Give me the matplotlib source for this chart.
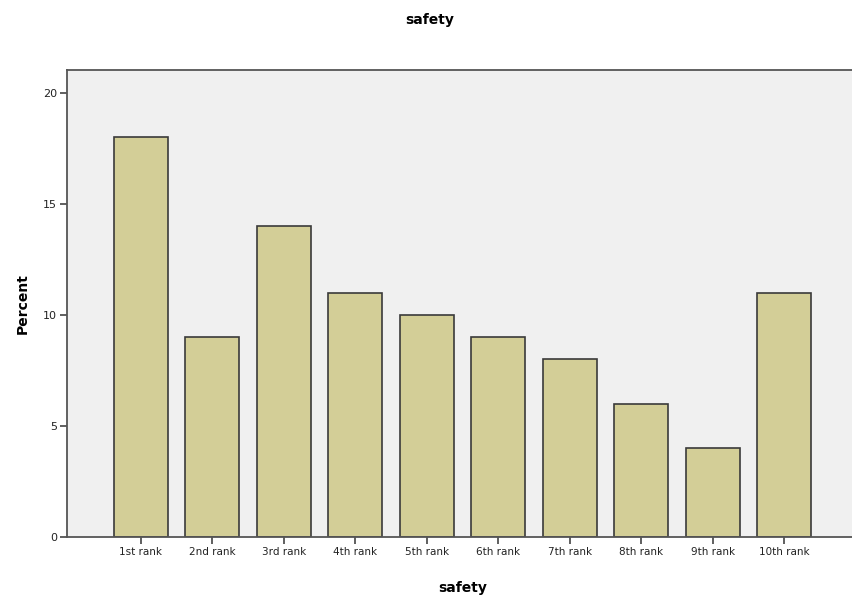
import matplotlib.pyplot as plt

categories = ["1st rank", "2nd rank", "3rd rank", "4th rank", "5th rank",
              "6th rank", "7th rank", "8th rank", "9th rank", "10th rank"]
percent = [18, 9, 14, 11, 10, 9, 8, 6, 4, 11]
yticks = [0, 5, 10, 15, 20]

fig = plt.figure(figsize=(8.52, 6), dpi=100)
# plot area runs past the right edge like the original export
ax = fig.add_axes([67 / 852, 63 / 600, 803 / 852, 467 / 600])
ax.set_facecolor("#F0F0F0")

pos = range(len(categories))
ax.bar(pos, percent, width=0.755, color="#D3CE97", edgecolor="#3A3A3A", linewidth=1.2)

ax.set_xlim(-1.035, 10.2)
ax.set_ylim(0, 21.04)
ax.set_xticks(list(pos))
ax.set_xticklabels(categories, fontsize=7.5, color="#222222")
ax.set_yticks(yticks)
ax.set_yticklabels([str(t) for t in yticks], fontsize=8, color="#222222")
ax.tick_params(axis="both", direction="out", length=5, width=1.2, color="#444444", pad=2)

for s in ["left", "bottom", "top"]:
    ax.spines[s].set_color("#555555")
    ax.spines[s].set_linewidth(1.3)
ax.spines["right"].set_visible(False)

ax.set_xlabel("safety", fontsize=10, fontweight="bold")
ax.set_ylabel("Percent", fontsize=10, fontweight="bold", labelpad=10)
ax.xaxis.set_label_coords((463 - 67) / 803, -44 / 467)
fig.text(430 / 852, 1 - 20 / 600, "safety", ha="center", va="center",
         fontsize=10, fontweight="bold")

fig.savefig("out.png", dpi=100)
